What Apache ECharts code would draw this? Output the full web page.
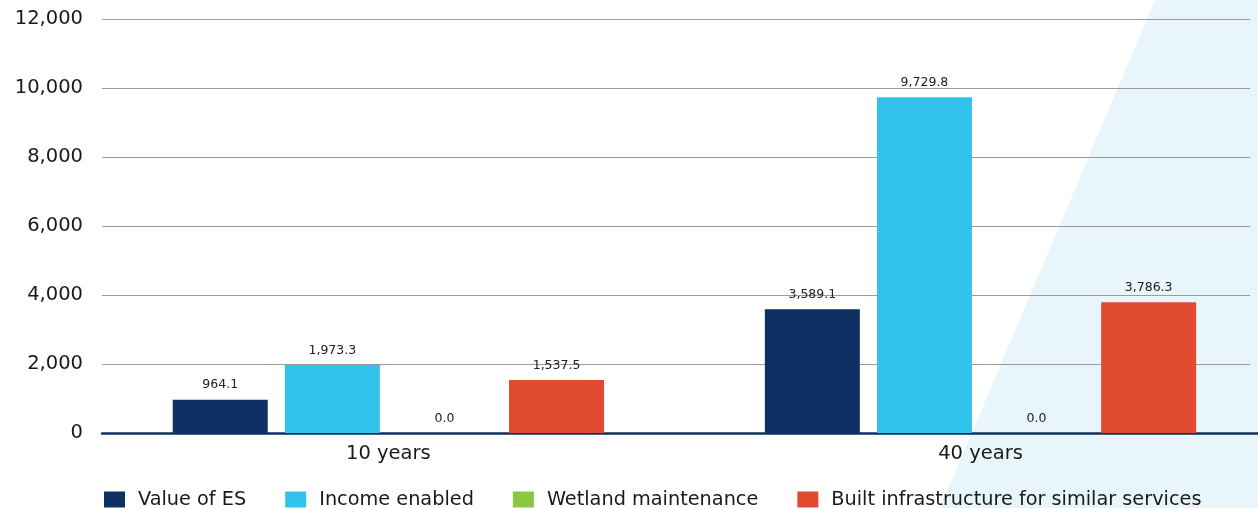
<!DOCTYPE html>
<html><head><meta charset="utf-8">
<script src="https://cdn.jsdelivr.net/npm/echarts@6/dist/echarts.min.js"></script>
<style>html,body{margin:0;padding:0;background:#fff}#c{width:1258px;height:508px}</style>
</head><body><div id="c"></div>
<script>
const categories = ['10 years', '40 years'];
const seriesNames = ['Value of ES', 'Income enabled', 'Wetland maintenance', 'Built infrastructure for similar services'];
const valueOfES = [964.1, 3589.1];
const incomeEnabled = [1973.3, 9729.8];
const wetlandMaintenance = [0.0, 0.0];
const builtInfrastructure = [1537.5, 3786.3];
const yTicks = [0, 2000, 4000, 6000, 8000, 10000, 12000];
const colors = ['#0F3063', '#31C3EB', '#8DC63F', '#E04B30'];
const FONT = 'DejaVu Sans';

const chart = echarts.init(document.getElementById('c'));
const fmt = v => v.toLocaleString('en-US', {minimumFractionDigits: 1, maximumFractionDigits: 1});
const dataArrays = [valueOfES, incomeEnabled, wetlandMaintenance, builtInfrastructure];
const yMin = yTicks[0], yMax = yTicks[yTicks.length - 1], yStep = yTicks[1] - yTicks[0];

chart.setOption({
  animation: false,
  backgroundColor: '#fff',
  textStyle: {fontFamily: FONT},
  graphic: [{
    type: 'polygon', z: -10, silent: true,
    shape: {points: [[1155, 0], [1258, 0], [1258, 508], [940, 508]]},
    style: {fill: '#E8F6FB'}
  }],
  legend: {
    top: 485, left: 99, itemWidth: 21, itemHeight: 16, itemGap: 39,
    icon: 'rect',
    textStyle: {fontFamily: FONT, fontSize: 19.3, color: '#1a1a1a', padding: [0, 0, 0, 8]},
    data: seriesNames
  },
  grid: [
    {left: 102, right: 8, top: 19, bottom: 75},
    {left: 388.4, right: 277.5, top: 19, bottom: 75},
    {left: 102, right: 0, top: 19, bottom: 75}
  ],
  xAxis: [
    {gridIndex: 0, type: 'category', data: categories, show: false},
    {gridIndex: 1, type: 'category', data: categories, boundaryGap: false,
     axisLine: {show: false}, axisTick: {show: false},
     axisLabel: {fontFamily: FONT, fontSize: 19.5, color: '#1a1a1a', margin: 11}},
    {gridIndex: 2, type: 'category', data: categories, axisLine: {show: true, lineStyle: {color: '#0F3063', width: 2.5}},
     axisTick: {show: false}, axisLabel: {show: false}}
  ],
  yAxis: [
    {gridIndex: 0, type: 'value', min: yMin, max: yMax, interval: yStep,
     axisLine: {show: false}, axisTick: {show: false},
     splitLine: {lineStyle: {color: '#9a9a9a', width: 1}},
     axisLabel: {fontFamily: FONT, fontSize: 19.5, color: '#1a1a1a', margin: 19,
       formatter: v => v.toLocaleString('en-US')}},
    {gridIndex: 1, type: 'value', min: yMin, max: yMax, interval: yStep, show: false},
    {gridIndex: 2, type: 'value', min: yMin, max: yMax, interval: yStep, show: false}
  ],
  series: seriesNames.map((name, i) => ({
    name, type: 'bar', xAxisIndex: 1, yAxisIndex: 1,
    data: dataArrays[i], barWidth: 95, barGap: '18%',
    itemStyle: {color: colors[i]},
    label: {show: true, position: 'top', distance: 8, fontFamily: FONT, fontSize: 12.5, color: '#222',
      formatter: p => fmt(p.value)}
  }))
});
</script></body></html>
